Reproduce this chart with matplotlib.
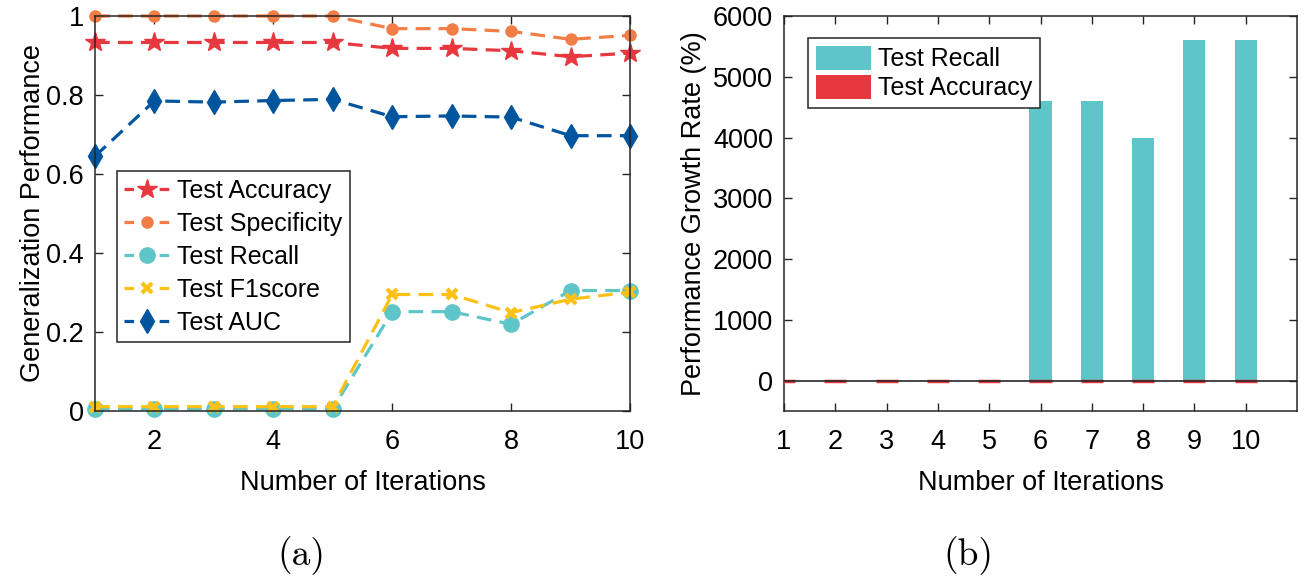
import matplotlib
matplotlib.use("Agg")
import matplotlib.pyplot as plt
from matplotlib.patches import Patch

plt.rcParams['font.family'] = ['Liberation Sans', 'DejaVu Sans']

# ---------------- data ----------------
iterations = [1, 2, 3, 4, 5, 6, 7, 8, 9, 10]
test_accuracy = [0.933, 0.933, 0.933, 0.933, 0.933, 0.918, 0.918, 0.912, 0.897, 0.906]
test_specificity = [1.0, 1.0, 1.0, 1.0, 1.0, 0.968, 0.968, 0.961, 0.941, 0.951]
test_recall = [0.0054, 0.0054, 0.0054, 0.0054, 0.0054, 0.2515, 0.2515, 0.2194, 0.305, 0.305]
test_f1score = [0.011, 0.011, 0.011, 0.011, 0.011, 0.295, 0.295, 0.249, 0.283, 0.301]
test_auc = [0.645, 0.785, 0.782, 0.786, 0.789, 0.745, 0.747, 0.744, 0.697, 0.697]

recall_growth = [0, 0, 0, 0, 0, 4600, 4600, 4000, 5600, 5600]
accuracy_growth = [0, 0, 0, 0, 0, -1.6, -1.6, -2.3, -3.9, -2.9]

left_xticks = [2, 4, 6, 8, 10]
left_yticks = [0, 0.2, 0.4, 0.6, 0.8, 1.0]
left_yticklabels = ['0', '0.2', '0.4', '0.6', '0.8', '1']
right_yticks = [0, 1000, 2000, 3000, 4000, 5000, 6000]

# ---------------- styles ----------------
c_acc = '#E8383F'
c_spec = '#F37D46'
c_rec = '#5EC6C8'
c_f1 = '#FDC014'
c_auc = '#00559E'
spine_c = '#262626'

W, H = 1308, 585
fig = plt.figure(figsize=(W / 100, H / 100), dpi=100)

def px_axes(l, t, r, b):
    return fig.add_axes([l / W, 1 - b / H, (r - l) / W, (b - t) / H])

def style_axes(ax):
    for s in ax.spines.values():
        s.set_color(spine_c)
        s.set_linewidth(1.1)
    ax.tick_params(direction='in', length=6, width=1.0, color=spine_c,
                   top=True, right=True, labelsize=19.5, pad=8)
    ax.tick_params(axis='x', pad=13)

# ---------------- (a) ----------------
ax1 = px_axes(95, 16, 630, 411)
lw = 2.3
dash = (4.6, 2.6)
ax1.plot(iterations, test_accuracy, '--', color=c_acc, lw=lw, marker='*', ms=15,
         label='Test Accuracy', clip_on=False, dashes=dash)
ax1.plot(iterations, test_specificity, '--', color=c_spec, lw=lw, marker='o', ms=8,
         label='Test Specificity', clip_on=False, dashes=dash)
ax1.plot(iterations, test_recall, '--', color=c_rec, lw=lw, marker='o', ms=11,
         label='Test Recall', clip_on=False, dashes=dash)
ax1.plot(iterations, test_f1score, '--', color=c_f1, lw=lw, marker='x', ms=7, mew=3,
         label='Test F1score', clip_on=False, dashes=dash)
ax1.plot(iterations, test_auc, '--', color=c_auc, lw=lw, marker='d', ms=12,
         label='Test AUC', clip_on=False, dashes=dash)
ax1.set_xlim(1, 10)
ax1.set_ylim(0, 1)
ax1.set_xticks(left_xticks)
ax1.set_yticks(left_yticks)
ax1.set_yticklabels(left_yticklabels)
style_axes(ax1)
ax1.set_xlabel('Number of Iterations', fontsize=19.5, labelpad=11)
ax1.set_ylabel('Generalization Performance', fontsize=19.5, labelpad=0)
leg1 = ax1.legend(loc='upper left', bbox_to_anchor=(0.041, 0.607), fontsize=18,
                  frameon=True, fancybox=False, edgecolor=spine_c, framealpha=1,
                  handlelength=1.8, handletextpad=0.3, labelspacing=0.36,
                  borderpad=0.3, borderaxespad=0)
leg1.get_frame().set_linewidth(1.1)
for ln in leg1.get_lines():
    ln.set_linestyle((0, (3, 8)))

# ---------------- (b) ----------------
ax2 = px_axes(784, 16, 1297, 411)
bw = 0.43
ax2.bar(iterations, recall_growth, width=bw, color=c_rec, zorder=2)
ax2.bar(iterations, accuracy_growth, width=bw, color=c_acc, edgecolor=c_acc,
        linewidth=2.5, zorder=3)
ax2.axhline(0, color=spine_c, lw=1.2, zorder=4)
ax2.set_xlim(1, 11)
ax2.set_ylim(-500, 6000)
ax2.set_xticks(iterations)
ax2.set_yticks(right_yticks)
style_axes(ax2)
ax2.set_xlabel('Number of Iterations', fontsize=19.5, labelpad=11)
ax2.set_ylabel('Performance Growth Rate (%)', fontsize=19.5, labelpad=4)
handles = [Patch(facecolor=c_rec, edgecolor='none'), Patch(facecolor=c_acc, edgecolor='none')]
leg2 = ax2.legend(handles, ['Test Recall', 'Test Accuracy'], loc='upper left',
                  bbox_to_anchor=(0.047, 0.944), fontsize=18, frameon=True,
                  fancybox=False, edgecolor=spine_c, framealpha=1,
                  handlelength=2.2, handleheight=1.1, handletextpad=0.3,
                  labelspacing=0.15, borderpad=0.3, borderaxespad=0)
leg2.get_frame().set_linewidth(1.1)

# ---------------- captions ----------------
fig.text(301 / W, 1 - 556 / H, '(a)', family='cmr10', fontsize=27, ha='center', va='center')
fig.text(968 / W, 1 - 556 / H, '(b)', family='cmr10', fontsize=27, ha='center', va='center')

fig.savefig('out.png', dpi=100)
